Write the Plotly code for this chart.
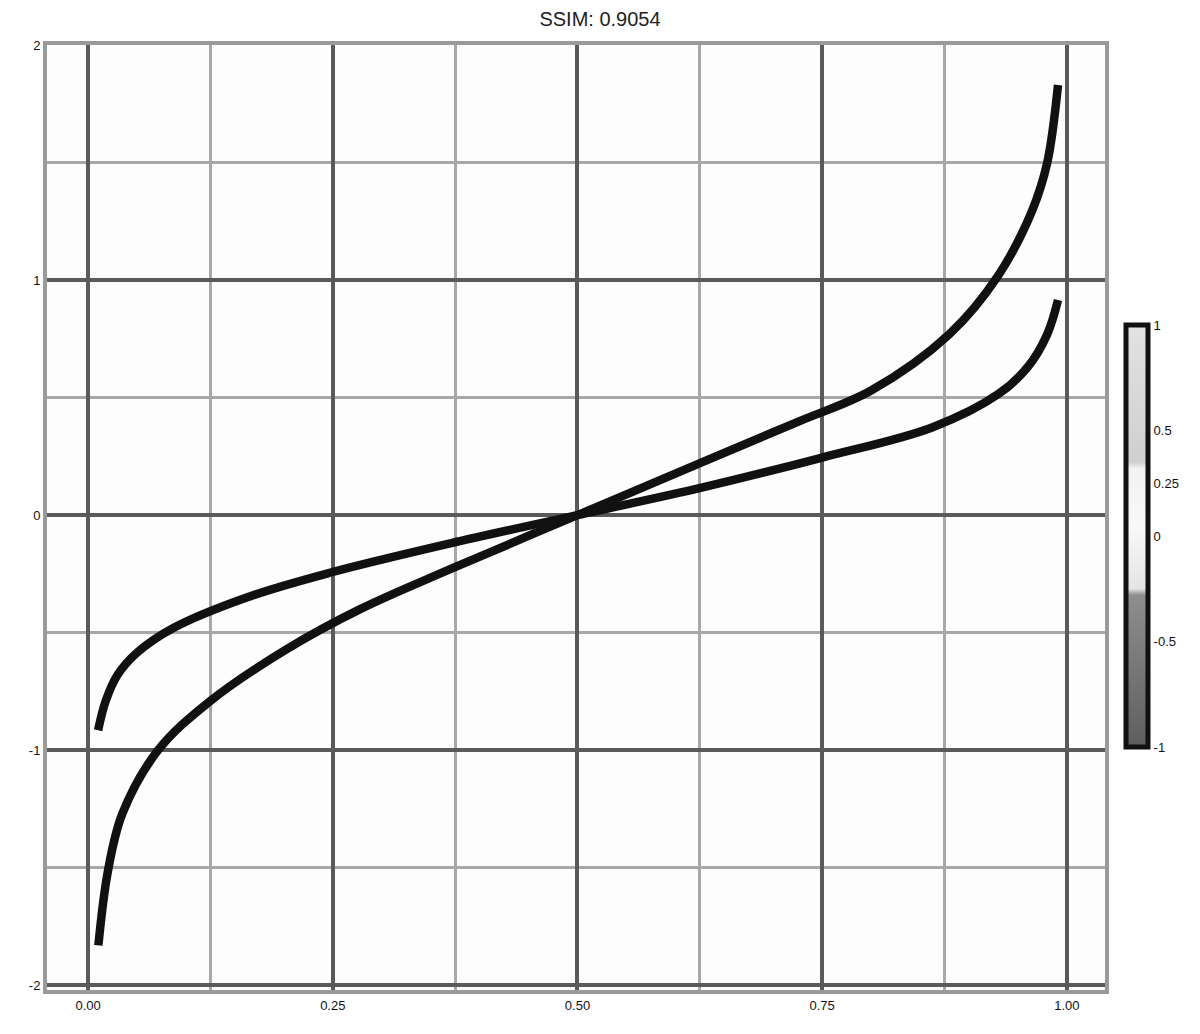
import plotly.graph_objects as go

# Data
x_steep = [0.0105, 0.02, 0.035, 0.0715, 0.125, 0.203, 0.278, 0.37, 0.5,
           0.63, 0.727, 0.80, 0.88, 0.93, 0.965, 0.98, 0.991]
y_steep = [-1.83, -1.52, -1.27, -1.0, -0.79, -0.57, -0.40, -0.23, 0.0,
           0.23, 0.40, 0.53, 0.77, 1.02, 1.30, 1.50, 1.83]

x_shallow = [0.0102, 0.018, 0.03, 0.05, 0.087, 0.162, 0.247, 0.37, 0.5,
             0.63, 0.75, 0.863, 0.93, 0.96, 0.98, 0.991]
y_shallow = [-0.915, -0.79, -0.68, -0.585, -0.48, -0.35, -0.245, -0.12, 0.0,
             0.12, 0.245, 0.374, 0.515, 0.63, 0.77, 0.915]

x_ticks = [0, 0.25, 0.5, 0.75, 1]
x_ticklabels = ["0.00", "0.25", "0.50", "0.75", "1.00"]
y_ticks = [-2, -1, 0, 1, 2]
y_ticklabels = ["-2", "-1", "0", "1", "2"]

cb_ticks = [-1, -0.5, 0, 0.25, 0.5, 1]
cb_ticklabels = ["-1", "-0.5", "0", "0.25", "0.5", "1"]
cb_colorscale = [[0.0, "#5e5e5e"], [0.36, "#8e8e8e"], [0.375, "#e4e4e4"], [0.52, "#f8f8f8"], [0.66, "#f2f2f2"], [0.675, "#cfcfcf"], [1.0, "#e2e2e2"]]

fig = go.Figure()
fig.add_trace(go.Scatter(x=x_steep, y=y_steep, mode="lines", line=dict(color="#111111", width=8.5, shape="spline", smoothing=1.0), showlegend=False))
fig.add_trace(go.Scatter(x=x_shallow, y=y_shallow, mode="lines", line=dict(color="#111111", width=8.5, shape="spline", smoothing=1.0), showlegend=False))
# colorbar holder
fig.add_trace(go.Scatter(
    x=[None], y=[None], mode="markers", showlegend=False,
    marker=dict(color=[0], cmin=-1, cmax=1, colorscale=cb_colorscale, showscale=True,
                colorbar=dict(thickness=22, len=0.447, lenmode="fraction", y=0.48, yanchor="middle",
                              x=1.02, xanchor="left", xpad=0, ypad=0,
                              outlinewidth=5, outlinecolor="#111111",
                              tickvals=cb_ticks, ticktext=cb_ticklabels,
                              tickfont=dict(size=13, color="#111111", family="Liberation Sans"),
                              ticks="", ticklen=0))))

fig.update_layout(
    width=1184, height=1018,
    paper_bgcolor="white", plot_bgcolor="#fdfdfd",
    margin=dict(l=39, r=87, t=37, b=36, autoexpand=False),
    title=dict(text="SSIM: 0.9054", x=0.5, xanchor="center", y=0.996, yanchor="top",
               font=dict(size=20, color="#222222", family="Liberation Sans")),
    xaxis=dict(range=[-0.042, 1.039], tickvals=x_ticks, ticktext=x_ticklabels, automargin=False,
               showgrid=True, gridcolor="#5a5a5a", gridwidth=4,
               minor=dict(dtick=0.125, showgrid=True, gridcolor="#a8a8a8", gridwidth=3),
               zeroline=False, showline=True, linecolor="#9a9a9a", linewidth=4, mirror=True,
               tickfont=dict(size=13, color="#111111", family="Liberation Sans")),
    yaxis=dict(range=[-2.02, 2.0], tickvals=y_ticks, ticktext=y_ticklabels, automargin=False,
               showgrid=True, gridcolor="#5a5a5a", gridwidth=4,
               minor=dict(dtick=0.5, showgrid=True, gridcolor="#a8a8a8", gridwidth=3),
               zeroline=False, showline=True, linecolor="#9a9a9a", linewidth=4, mirror=True,
               tickfont=dict(size=13, color="#111111", family="Liberation Sans")),
)

fig.write_html("out.html")
